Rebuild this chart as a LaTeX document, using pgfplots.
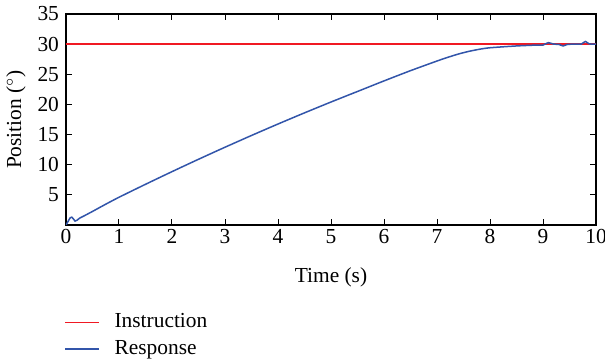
\documentclass[border=0pt]{standalone}
\usepackage{fontspec}
\setmainfont{Liberation Serif}
\usepackage{pgfplots}
\pgfplotsset{compat=1.18}
\definecolor{myred}{RGB}{240,25,35}
\definecolor{myblue}{RGB}{50,85,170}
\begin{document}
\begin{tikzpicture}
\begin{axis}[
  name=a,
  scale only axis,
  width=265pt, height=105.5pt,
  xmin=0, xmax=10, ymin=0, ymax=35,
  xtick={0,1,...,10},
  ytick={5,10,15,20,25,30,35},
  tick align=inside,
  major tick length=3pt,
  tick style={black, line width=0.5pt},
  axis line style={line width=0.6pt},
  /pgf/number format/assume math mode=true,
  ticklabel style={font=\fontsize{10.7}{12.8}\selectfont},
  xticklabel style={inner sep=2pt},
  label style={font=\fontsize{10.7}{12.8}\selectfont},
  xlabel={Time (s)},
  ylabel={Position ($^\circ$)},
  xlabel style={yshift=-6.5pt},
  ylabel style={yshift=-1pt},
  legend style={at={(axis description cs:-0.007,-0.39)}, anchor=north west, draw=none, fill=none,
    font=\fontsize{10.7}{12.8}\selectfont, row sep=0.8pt, column sep=5.2pt, inner sep=1pt},
  legend cell align=left,
  legend image code/.code={\draw[#1] (0pt,0pt) -- (17pt,0pt);},
]
\addplot[color=myred, line width=0.7pt] coordinates {(0,30) (10,30)};
\addlegendentry{Instruction}
\addplot[color=myblue, line width=0.75pt, smooth, tension=0.4] coordinates {
(0,0) (0.04,0.6) (0.08,1.2) (0.11,1.3) (0.14,1.0) (0.17,0.65) (0.21,0.8) (0.26,1.15) (0.35,1.55)
(0.5,2.25) (0.75,3.45) (1,4.6) (1.5,6.75) (2,8.85) (2.5,10.9) (3,12.9) (3.5,14.85) (4,16.75)
(4.5,18.6) (5,20.4) (5.5,22.15) (6,23.9) (6.5,25.6) (7,27.2) (7.2,27.8) (7.4,28.35)
(7.6,28.8) (7.8,29.15) (8,29.4) (8.5,29.7) (8.9,29.85) (9.0,29.85) (9.1,30.25) (9.2,30.0)
(9.3,29.95) (9.38,29.7) (9.46,29.95) (9.6,30.0) (9.72,30.0) (9.8,30.45) (9.87,30.05) (10,30.0)
};
\addlegendentry{Response}
\end{axis}
\pgfresetboundingbox
\path ([shift={(-33pt,-68.5pt)}]a.south west) rectangle ([shift={(4.5pt,7pt)}]a.north east);
\end{tikzpicture}
\end{document}
